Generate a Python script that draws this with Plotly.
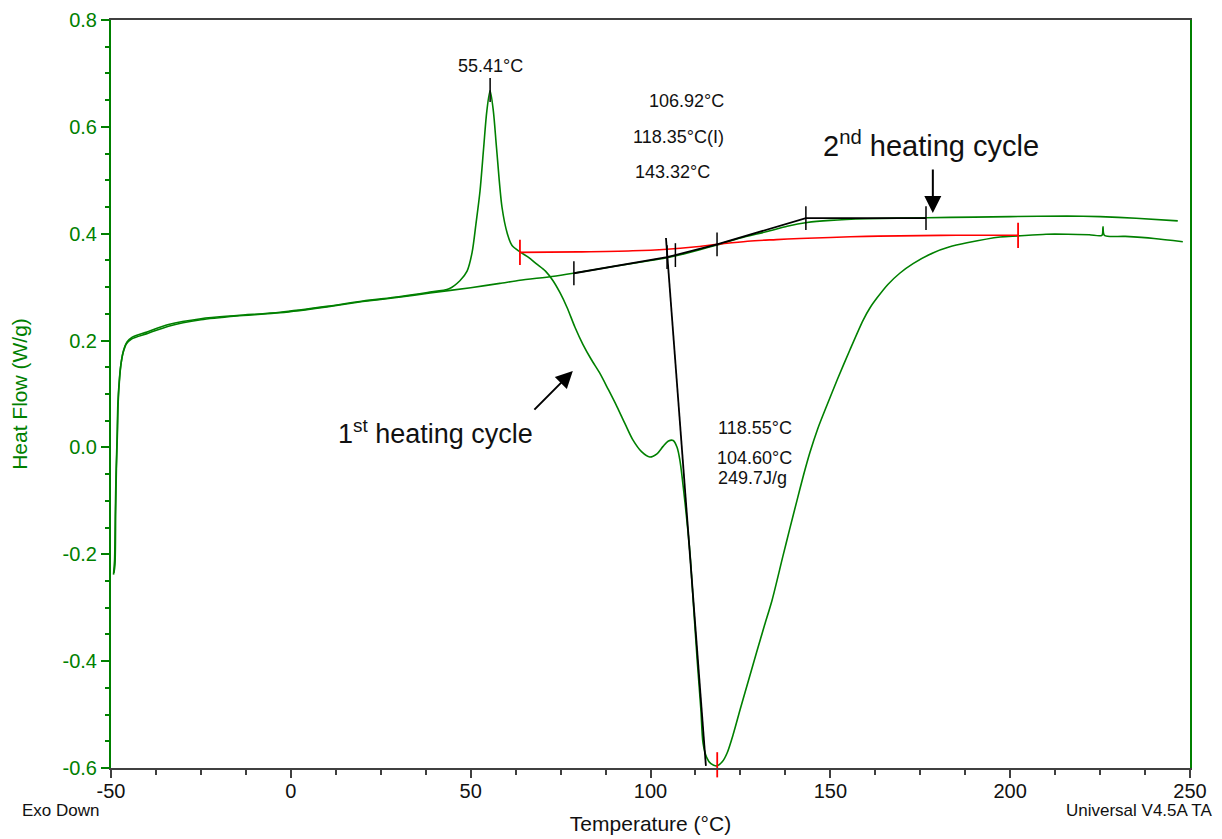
"""
DSC thermogram - 1st and 2nd heating cycles (TA Universal Analysis style).
"""

import plotly.graph_objects as go

# ─────────────────────────────────────────────
# DATA
# ─────────────────────────────────────────────

cycle1_temp = [-49.2, -48.9, -48.7, -48.5, -48.2, -48.0, -47.6, -47.2, -46.5, -45.6,
               -44.2, -40, -34, -25, -15, -3, 10, 20, 30, 38, 44, 47, 49, 50.4,
               51.5, 52.6, 53.6, 54.5, 55.4, 56.3, 57.2, 58.7, 60.2, 61.5, 63.7, 66,
               68.4, 70.8, 72.9, 74.8, 76.8, 79, 81.2, 83.5, 85.9, 88.3, 90.7, 93,
               95.1, 97.5, 99.8, 101.8, 103.5, 105, 106.3, 107.4, 108.2, 109.6, 111,
               111.9, 113, 114, 114.6, 115.6, 116.8, 118.5, 120, 121.3, 123, 124.9,
               127.2, 129.6, 131.7, 133.8, 136.8, 138.8, 140.7, 142.5, 144.3, 146.5,
               149, 152, 155.4, 159.1, 161, 163, 166, 169.3, 173, 178.5, 183, 188,
               197.2, 202.2, 210, 216, 222, 225.5, 225.8, 226.2, 232, 240, 248]
cycle1_hf = [-0.235, -0.22, -0.12, -0.04, 0.03, 0.085, 0.13, 0.158, 0.182, 0.197,
             0.206, 0.216, 0.230, 0.241, 0.247, 0.253, 0.264, 0.274, 0.282, 0.290,
             0.297, 0.312, 0.330, 0.365, 0.42, 0.48, 0.56, 0.63, 0.668, 0.63, 0.56,
             0.45, 0.40, 0.378, 0.366, 0.356, 0.343, 0.330, 0.312, 0.290, 0.262,
             0.225, 0.193, 0.165, 0.139, 0.108, 0.076, 0.043, 0.014, -0.008, -0.018,
             -0.012, 0.002, 0.012, 0.013, 0.0, -0.025, -0.104, -0.2, -0.29, -0.40,
             -0.49, -0.553, -0.58, -0.592, -0.596, -0.588, -0.572, -0.537, -0.491,
             -0.437, -0.381, -0.333, -0.286, -0.204, -0.150, -0.100, -0.053, -0.010,
             0.035, 0.078, 0.128, 0.182, 0.238, 0.261, 0.280, 0.305, 0.326, 0.344,
             0.364, 0.375, 0.383, 0.394, 0.396, 0.399, 0.399, 0.398, 0.397, 0.413,
             0.397, 0.395, 0.391, 0.385]

cycle2_temp = [-49.3, -49.0, -48.8, -48.6, -48.3, -48.1, -47.7, -47.3, -46.6, -45.7,
               -44.3, -40, -34, -25, -15, -3, 10, 20, 30, 38.7, 50, 58.1, 63.7, 72.6,
               78.5, 90, 100, 104.6, 108, 113.7, 118.5, 125, 132.4, 138, 143.5, 150,
               160.2, 176.9, 190, 200, 215.8, 225, 235, 246.6]
cycle2_hf = [-0.238, -0.21, -0.12, -0.05, 0.02, 0.08, 0.125, 0.152, 0.178, 0.194,
             0.203, 0.213, 0.227, 0.239, 0.246, 0.252, 0.263, 0.273, 0.281, 0.289,
             0.299, 0.307, 0.313, 0.320, 0.326, 0.339, 0.350, 0.355, 0.360, 0.370,
             0.379, 0.392, 0.404, 0.414, 0.421, 0.425, 0.428, 0.430, 0.431, 0.432,
             0.433, 0.432, 0.429, 0.424]

# integration baseline of the melting endotherm
base_temp = [63.7, 80, 95, 104.6, 112, 118.5, 127, 135, 141.5, 150, 160, 169.3, 185, 202.2]
base_hf = [0.365, 0.366, 0.368, 0.371, 0.375, 0.380, 0.386, 0.389, 0.391, 0.393,
           0.395, 0.396, 0.397, 0.397]

# glass transition construction (2nd cycle)
tg_temp = [78.7, 104.6, 118.5, 143.2, 176.6]
tg_hf = [0.326, 0.356, 0.380, 0.429, 0.429]

# onset tangent of the melting peak
onset_temp = [104.3, 115.4]
onset_hf = [0.392, -0.596]

# analysis cursors
black_tick_temp = [55.41, 78.7, 104.6, 106.92, 118.5, 143.2, 176.6]
black_tick_hf = [0.669, 0.326, 0.356, 0.360, 0.380, 0.429, 0.429]
red_tick_temp = [63.7, 202.2, 118.55]
red_tick_hf = [0.365, 0.397, -0.594]

x_ticks = [-50, 0, 50, 100, 150, 200, 250]
x_ticktext = ["-50", "0", "50", "100", "150", "200", "250"]
y_ticks = [-0.6, -0.4, -0.2, 0.0, 0.2, 0.4, 0.6, 0.8]
y_ticktext = ["-0.6", "-0.4", "-0.2", "0.0", "0.2", "0.4", "0.6", "0.8"]

# result labels: (text, temp, heat flow)
result_labels = [
    ("55.41°C", 55.4, 0.714),
    ("106.92°C", 110.1, 0.648),
    ("118.35°C(I)", 107.9, 0.581),
    ("143.32°C", 106.2, 0.516),
    ("118.55°C", 129.0, 0.036),
    ("104.60°C", 129.0, -0.020),
    ("249.7J/g", 128.4, -0.057),
]

GREEN = "#008000"
AXIS_GREY = "#404040"
FONT = "Liberation Sans, Arial, sans-serif"

# ─────────────────────────────────────────────
# FIGURE
# ─────────────────────────────────────────────

fig = go.Figure()

fig.add_trace(go.Scatter(x=cycle2_temp, y=cycle2_hf, mode="lines",
                         line=dict(color=GREEN, width=1.6, shape="spline", smoothing=0.6)))
fig.add_trace(go.Scatter(x=cycle1_temp, y=cycle1_hf, mode="lines",
                         line=dict(color=GREEN, width=1.6, shape="spline", smoothing=0.8)))
fig.add_trace(go.Scatter(x=base_temp, y=base_hf, mode="lines",
                         line=dict(color="#ff0000", width=1.6, shape="spline")))
fig.add_trace(go.Scatter(x=tg_temp, y=tg_hf, mode="lines",
                         line=dict(color="black", width=1.8)))
fig.add_trace(go.Scatter(x=onset_temp, y=onset_hf, mode="lines",
                         line=dict(color="black", width=1.8)))
fig.add_trace(go.Scatter(x=black_tick_temp, y=black_tick_hf, mode="markers",
                         marker=dict(symbol="line-ns-open", size=17, color="black",
                                     line=dict(color="black", width=1.5))))
fig.add_trace(go.Scatter(x=red_tick_temp, y=red_tick_hf, mode="markers", cliponaxis=False,
                         marker=dict(symbol="line-ns-open", size=18, color="#ff0000",
                                     line=dict(color="#ff0000", width=1.8))))

for text, tx, ty in result_labels:
    fig.add_annotation(x=tx, y=ty, text=text, showarrow=False,
                       font=dict(family=FONT, size=18, color="#111111"))

# cycle labels with arrows
fig.add_annotation(x=40.1, y=0.029, text="1<sup>st</sup> heating cycle", showarrow=False,
                   font=dict(family=FONT, size=27, color="#111111"))
fig.add_annotation(x=78.4, y=0.143, ax=67.3, ay=0.068, axref="x", ayref="y", text="",
                   showarrow=True, arrowhead=2, arrowsize=1.7, arrowwidth=2, arrowcolor="black")
fig.add_annotation(x=178.0, y=0.568, text="2<sup>nd</sup> heating cycle", showarrow=False,
                   font=dict(family=FONT, size=29, color="#111111"))
fig.add_annotation(x=178.5, y=0.439, ax=178.5, ay=0.523, axref="x", ayref="y", text="",
                   showarrow=True, arrowhead=2, arrowsize=1.7, arrowwidth=2, arrowcolor="black")

fig.add_annotation(xref="paper", yref="paper", x=-0.084, y=-0.072, xanchor="left",
                   text="Exo Down", showarrow=False,
                   font=dict(family=FONT, size=17, color="#111111"))
fig.add_annotation(xref="paper", yref="paper", x=0.883, y=-0.072, xanchor="left",
                   text="Universal V4.5A TA", showarrow=False,
                   font=dict(family=FONT, size=17, color="#111111"))

fig.update_xaxes(
    range=[-50, 250], tickmode="array", tickvals=x_ticks, ticktext=x_ticktext,
    ticks="outside", ticklen=8, tickwidth=1.5, tickcolor=AXIS_GREY,
    showline=True, linecolor=AXIS_GREY, linewidth=2, mirror=True,
    showgrid=False, zeroline=False, ticklabelstandoff=-4,
    tickfont=dict(family=FONT, size=20, color="#111111"),
    minor=dict(dtick=12.5, tick0=0, ticks="outside", ticklen=5, tickwidth=1.5,
               tickcolor=AXIS_GREY, showgrid=False),
    title=dict(text="Temperature (°C)", standoff=15,
               font=dict(family=FONT, size=21, color="#111111")),
)
fig.update_yaxes(
    range=[-0.6, 0.8], tickmode="array", tickvals=y_ticks, ticktext=y_ticktext,
    ticks="outside", ticklen=8, tickwidth=1.5, tickcolor=GREEN,
    showline=True, linecolor=GREEN, linewidth=2, mirror=True,
    showgrid=False, zeroline=False,
    tickfont=dict(family=FONT, size=20, color=GREEN),
    minor=dict(dtick=0.05, tick0=0, ticks="outside", ticklen=4, tickwidth=1.5,
               tickcolor=GREEN, showgrid=False),
    title=dict(text="Heat Flow (W/g)", standoff=32,
               font=dict(family=FONT, size=21, color=GREEN)),
)

# the page body adds an 8 px offset, margins are set so the plot area lands
# on the same pixels as the reference
fig.update_layout(
    width=1222, height=839,
    margin=dict(l=103, r=40, t=12, b=79, autoexpand=False),
    showlegend=False,
    plot_bgcolor="white",
    paper_bgcolor="white",
    font=dict(family=FONT),
)

fig.write_html("out.html")
